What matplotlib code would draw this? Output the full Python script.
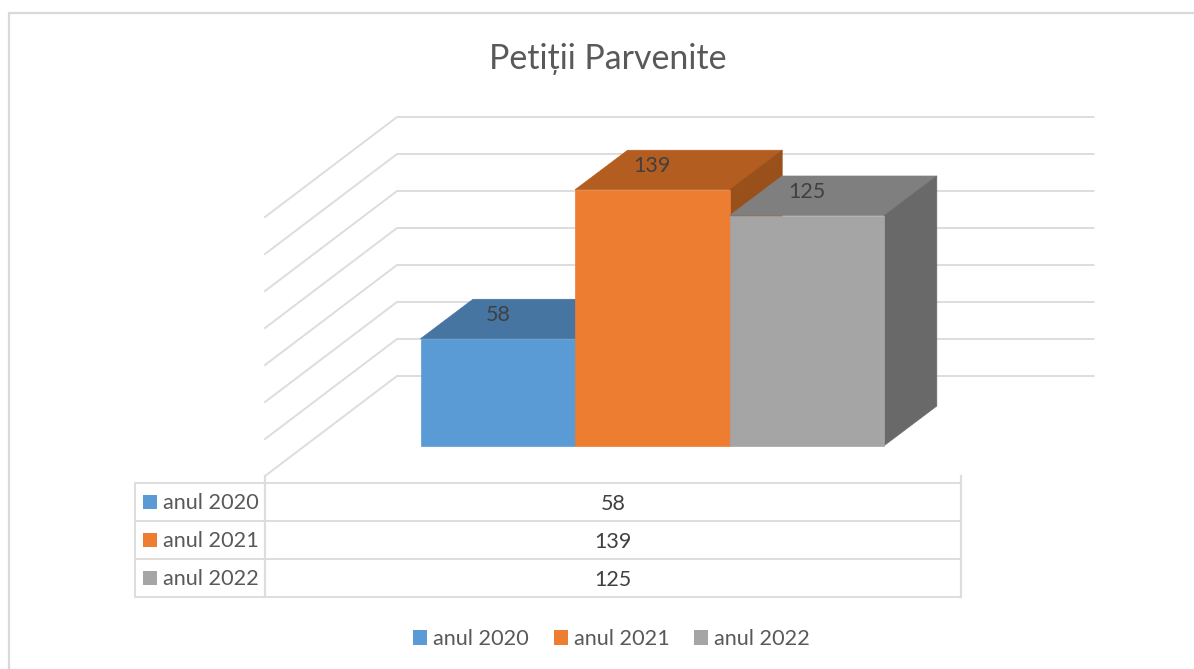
import matplotlib
matplotlib.use("Agg")
import matplotlib.pyplot as plt
from matplotlib.patches import Polygon, Rectangle, Patch

plt.rcParams['font.family'] = ['Lato', 'DejaVu Sans']

title = "Petiții Parvenite"
series = ["anul 2020", "anul 2021", "anul 2022"]
values = [58, 139, 125]
grid_values = [0, 20, 40, 60, 80, 100, 120, 140]

colors = ["#5B9BD5", "#ED7D31", "#A5A5A5"]
top_colors = ["#4675A2", "#B35D20", "#7F7F7F"]
side_colors = ["#3D6A94", "#9A501B", "#696969"]
grid_color = "#DDDDDD"
text_color = "#595959"
label_color = "#404040"

W, H = 1194, 669
PX_PER_VALUE = 1.84
PX_PER_BAR = 154.6
BASE_X, BASE_Y = 420.5, 445.5      # front left foot of the first bar
DEPTH_X, DEPTH_Y = 52.5, 39.5      # bar depth in pixels
WALL_X, WALL_Y = 397, 376          # where the 0 line meets the side wall
FRONT_X, FRONT_Y = 265, 476        # front end of the 0 line on the side wall
WALL_END = 1093.5
GRID_STEP_PX = 37

fig = plt.figure(figsize=(W / 100, H / 100), dpi=100)

# layout axes in pixels, for frame and table
layout = fig.add_axes([0, 0, 1, 1], zorder=1)
layout.set_xlim(0, W)
layout.set_ylim(H, 0)
layout.axis("off")

# value axes: x in bars, y in the values of the chart
ax = fig.add_axes([0, 0, 1, 1], zorder=2)
ax.set_xlim(-BASE_X / PX_PER_BAR, (W - BASE_X) / PX_PER_BAR)
ax.set_ylim((BASE_Y - H) / PX_PER_VALUE, BASE_Y / PX_PER_VALUE)
ax.axis("off")

dx = DEPTH_X / PX_PER_BAR
dy = DEPTH_Y / PX_PER_VALUE
wall_left = (WALL_X - BASE_X) / PX_PER_BAR
wall_right = (WALL_END - BASE_X) / PX_PER_BAR
front_left = (FRONT_X - BASE_X) / PX_PER_BAR
wall_base = (BASE_Y - WALL_Y) / PX_PER_VALUE
front_base = (BASE_Y - FRONT_Y) / PX_PER_VALUE

# the walls sit further back, so their lines are a little wider apart than the bar scale
grid_scale = GRID_STEP_PX / 20 / PX_PER_VALUE
for g in grid_values:
    ax.plot([front_left, wall_left, wall_right],
            [front_base + g * grid_scale, wall_base + g * grid_scale, wall_base + g * grid_scale],
            color=grid_color, lw=1.4, solid_joinstyle="miter", zorder=1)

for i, v in enumerate(values):
    ax.add_patch(Polygon([(i, v), (i + dx, v + dy), (i + 1 + dx, v + dy), (i + 1, v)],
                         fc=top_colors[i], ec=top_colors[i], lw=0.5, zorder=2 + i))
    ax.add_patch(Polygon([(i + 1, 0), (i + 1 + dx, dy), (i + 1 + dx, v + dy), (i + 1, v)],
                         fc=side_colors[i], ec=side_colors[i], lw=0.5, zorder=2 + i))
    ax.add_patch(Rectangle((i, 0), 1, v, fc=colors[i], ec=colors[i], lw=0.5, zorder=2 + i))
    ax.text(i + 0.5, v + dy * 0.6, str(v), ha="center", va="center",
            fontsize=15.5, color=label_color, zorder=10)

# frame of the chart, right and bottom edges fall outside the picture
layout.plot([9, 9, W], [H, 13, 13], color="#D9D9D9", lw=1.6, solid_joinstyle="miter")

layout.text(607.5, 59, title, ha="center", va="center", fontsize=24.4, color=text_color)

# data table
row_tops = [483, 521, 559, 597]
table_left, table_mid, table_right = 135, 265, 961
for y in row_tops:
    layout.plot([table_left, table_right], [y, y], color=grid_color, lw=1.4)
layout.plot([table_left, table_left], [row_tops[0], row_tops[-1]], color=grid_color, lw=1.4)
layout.plot([table_mid, table_mid], [FRONT_Y, row_tops[-1]], color=grid_color, lw=1.6)
layout.plot([table_right, table_right], [FRONT_Y, row_tops[-1]], color=grid_color, lw=1.6)
for i, name in enumerate(series):
    y = (row_tops[i] + row_tops[i + 1]) / 2
    layout.add_patch(Rectangle((143, y - 7), 14, 14, fc=colors[i], ec="none"))
    layout.text(163, y + 1, name, ha="left", va="center", fontsize=15.6, color=text_color)
    layout.text((table_mid + table_right) / 2, y + 1.5, str(values[i]), ha="center", va="center",
                fontsize=15.5, color=label_color)

handles = [Patch(fc=c, ec="none") for c in colors]
leg = layout.legend(handles, series, ncols=3, frameon=False, fontsize=15.6,
                    loc="center", bbox_to_anchor=(611.5, 639), bbox_transform=layout.transData,
                    handlelength=0.646, handleheight=0.646, handletextpad=0.277, columnspacing=1.15,
                    labelcolor=text_color)

fig.savefig("out.png", dpi=100, facecolor="white")
